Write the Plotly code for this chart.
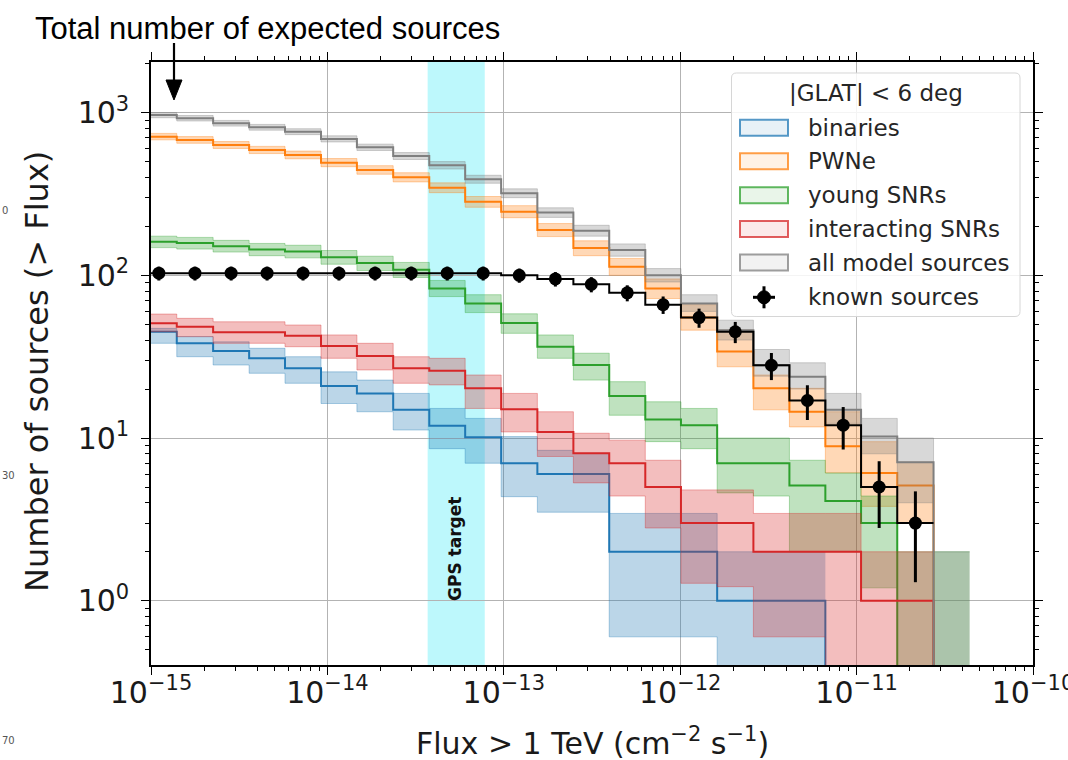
import numpy as np
import plotly.graph_objects as go

# ---------------- data ----------------
# bin edges of the cumulative histograms, flux > 1 TeV (cm^-2 s^-1)
FLUX_EDGES = [8.77e-16, 1.40e-15, 2.25e-15, 3.60e-15, 5.75e-15, 9.20e-15, 1.47e-14, 2.36e-14,
              3.78e-14, 6.04e-14, 9.66e-14, 1.55e-13, 2.48e-13, 3.96e-13, 6.34e-13, 1.01e-12,
              1.62e-12, 2.60e-12, 4.16e-12, 6.65e-12, 1.06e-11, 1.70e-11, 2.73e-11, 4.37e-11]

# all model sources (median, lower, upper)
ALL_MED = [967, 923, 860, 812, 763, 689, 612, 541, 474, 389, 319, 243, 188, 143, 100, 67, 46, 28, 23.8, 14.9, 10.2, 7.1, 0]
ALL_LO = [930, 888, 826, 780, 732, 660, 585, 515, 450, 368, 300, 227, 174, 131, 91, 60, 40, 24, 20, 12.3, 8.0, 4.0, 0]
ALL_HI = [1000, 960, 895, 846, 796, 720, 640, 568, 500, 412, 340, 260, 203, 156, 110, 76, 53, 35, 29, 18.8, 13.2, 10.0, 2.0]

# PWNe
PWN_MED = [711, 679, 632, 589, 549, 492, 444, 400, 345, 283, 246, 190, 147, 113, 83, 55, 34, 20.2, 14.5, 8.9, 6.1, 5.1, 0]
PWN_LO = [680, 648, 602, 560, 520, 465, 418, 375, 322, 262, 226, 173, 132, 100, 72, 46, 27.4, 14.9, 11.7, 6.1, 3.8, 3.0]
PWN_HI = [745, 712, 664, 620, 580, 522, 472, 427, 370, 305, 268, 208, 163, 127, 95, 66, 46, 24.4, 20.2, 14.5, 9.5, 7.1]

# young SNRs
YSNR_MED = [161, 158, 151, 144, 140, 129, 119, 108, 83, 67, 51, 36.4, 28.1, 18.1, 13.0, 12.0, 7.0, 7.0, 5.1, 4.1, 3.0, 0, 0]
YSNR_LO = [148, 145, 139, 132, 128, 117, 107, 97, 74, 59, 44, 30.9, 22.7, 13.8, 9.5, 8.6, 4.6, 4.4, 2.0, 2.0, 1.2, 0, 0]
YSNR_HI = [174, 171, 164, 157, 153, 142, 131, 120, 93, 76, 58, 43, 33.2, 22.2, 16.7, 15.2, 10, 10, 7.3, 6.1, 4.4, 2.0, 2.0]

# interacting SNRs
ISNR_MED = [50.7, 48.3, 44.6, 44.6, 42.5, 36.8, 31.9, 26.8, 25.9, 20.2, 15.0, 10.9, 8.05, 7.0, 5.0, 3.0, 3.0, 2.0, 2.0, 2.0, 1.0, 1.0, 0]
ISNR_LO = [45, 42, 38.2, 38.2, 36.4, 30.9, 26.2, 21.7, 21.2, 15.2, 10.9, 7.7, 5.3, 4.4, 2.8, 1.28, 1.22, 0.6, 0.6, 0, 0, 0]
ISNR_HI = [57.8, 54.4, 51.8, 51.8, 49.5, 43, 38.2, 31.6, 30.9, 24.4, 18.8, 14.5, 10.7, 9.7, 7.3, 4.8, 4.8, 3.44, 3.44, 3.44, 2.0, 2.0]

# binaries
BIN_MED = [45, 38.2, 34.3, 30.9, 26.8, 20.9, 18.8, 14.9, 11.9, 10.1, 7.0, 6.0, 6.0, 2.0, 2.0, 2.0, 1.0, 1.0, 1.0, 0]
BIN_LO = [38.2, 31.6, 28.1, 25.0, 21.7, 16.3, 14.5, 11.2, 8.6, 7.0, 4.36, 3.5, 3.5, 0.6, 0.6, 0.6, 0, 0, 0]
BIN_HI = [47.2, 42, 39, 35.6, 31.6, 25.5, 22.7, 18.8, 15.2, 13.2, 10.2, 8.4, 8.05, 3.44, 3.44, 3.44, 2.0, 2.0, 2.0]

# known sources (counts and Poisson errors)
KNOWN = [103, 103, 103, 103, 103, 103, 103, 103, 103, 103, 100, 95, 88, 78, 66, 55, 45, 28, 17, 12, 5, 3]
KNOWN_ERR = [10.1, 10.1, 10.1, 10.1, 10.1, 10.1, 10.1, 10.1, 10.1, 10.1, 10.0, 9.7, 9.4, 8.8, 8.1, 7.4, 6.7, 5.3, 4.1, 3.5, 2.2, 1.7]

GPS_TARGET = [3.7e-14, 7.8e-14]

X_TICKS = [1e-15, 1e-14, 1e-13, 1e-12, 1e-11, 1e-10]
X_TICKTEXT = ["10<sup>\u221215</sup>", "10<sup>\u221214</sup>", "10<sup>\u221213</sup>",
              "10<sup>\u221212</sup>", "10<sup>\u221211</sup>", "10<sup>\u221210</sup>"]
Y_TICKS = [1, 10, 100, 1000]
Y_TICKTEXT = ["10<sup>0</sup>", "10<sup>1</sup>", "10<sup>2</sup>", "10<sup>3</sup>"]

LEGEND_LABELS = ["binaries", "PWNe", "young SNRs", "interacting SNRs", "all model sources"]

# ---------------- styling ----------------
C_BLUE = (31, 119, 180)
C_ORANGE = (255, 127, 14)
C_GREEN = (44, 160, 44)
C_RED = (214, 39, 40)
C_GRAY = (127, 127, 127)
FLOOR = 1e-3  # stand-in for zero on the log axis (falls below the visible range)

W, H = 1068, 760
PL, PR, PT, PB = 151, 1033, 62, 665  # plot area in pixels


def rgba(c, a):
    return "rgba(%d,%d,%d,%.3f)" % (c[0], c[1], c[2], a)


def px2x(px):
    return (px - PL) / (PR - PL)


def py2y(py):
    return (PB - py) / (PB - PT)


def step_xy(vals):
    n = len(vals)
    x = FLUX_EDGES[:n + 1]
    y = [v if v > 0 else FLOOR for v in vals]
    y = y + [y[-1]]
    return x, y


fig = go.Figure()


def add_component(med, lo, hi, col):
    xl, yl = step_xy(lo)
    xh, yh = step_xy(hi)
    fig.add_trace(go.Scatter(x=xl, y=yl, mode="lines",
                             line=dict(color=rgba(col, 0.35), width=1, shape="hv"),
                             hoverinfo="skip", showlegend=False))
    fig.add_trace(go.Scatter(x=xh, y=yh, mode="lines", fill="tonexty",
                             fillcolor=rgba(col, 0.3),
                             line=dict(color=rgba(col, 0.35), width=1, shape="hv"),
                             hoverinfo="skip", showlegend=False))
    xm, ym = step_xy(med)
    fig.add_trace(go.Scatter(x=xm, y=ym, mode="lines",
                             line=dict(color=rgba(col, 1), width=2, shape="hv"),
                             showlegend=False))


add_component(BIN_MED, BIN_LO, BIN_HI, C_BLUE)
add_component(PWN_MED, PWN_LO, PWN_HI, C_ORANGE)
add_component(YSNR_MED, YSNR_LO, YSNR_HI, C_GREEN)
add_component(ISNR_MED, ISNR_LO, ISNR_HI, C_RED)
add_component(ALL_MED, ALL_LO, ALL_HI, C_GRAY)

# known sources: step line + points with error bars
xk, yk = step_xy(KNOWN)
fig.add_trace(go.Scatter(x=xk, y=yk, mode="lines",
                         line=dict(color="black", width=2, shape="hv"), showlegend=False))
edges = np.array(FLUX_EDGES)
centers = np.sqrt(edges[:-1] * edges[1:])[:len(KNOWN)]
fig.add_trace(go.Scatter(x=centers, y=KNOWN, mode="markers",
                         marker=dict(color="black", size=13, symbol="circle"),
                         error_y=dict(type="data", array=KNOWN_ERR, color="black",
                                      thickness=3, width=0),
                         showlegend=False))

shapes = []
# GPS target band
shapes.append(dict(type="rect", xref="x", yref="paper", x0=GPS_TARGET[0], x1=GPS_TARGET[1],
                   y0=0, y1=1, fillcolor="rgba(0,229,245,0.26)", line=dict(width=0),
                   layer="below"))

# ---- manual legend (matplotlib style) ----
bx0, bx1, by0, by1, r = 731.5, 1020, 73, 316.5, 5
rx, ry = r / (PR - PL), r / (PB - PT)
X0, X1, Y0, Y1 = px2x(bx0), px2x(bx1), py2y(by1), py2y(by0)
path = ("M %f,%f L %f,%f Q %f,%f %f,%f L %f,%f Q %f,%f %f,%f L %f,%f Q %f,%f %f,%f "
        "L %f,%f Q %f,%f %f,%f Z" % (
            X0 + rx, Y0, X1 - rx, Y0, X1, Y0, X1, Y0 + ry, X1, Y1 - ry, X1, Y1, X1 - rx, Y1,
            X0 + rx, Y1, X0, Y1, X0, Y1 - ry, X0, Y0 + ry, X0, Y0, X0 + rx, Y0))
shapes.append(dict(type="path", xref="paper", yref="paper", path=path,
                   fillcolor="rgba(255,255,255,0.85)", line=dict(color="#d6d6d6", width=1),
                   layer="above"))

row_y = [127.7, 161.3, 195.3, 229.0, 262.5, 297.3]
leg_cols = [C_BLUE, C_ORANGE, C_GREEN, C_RED, C_GRAY]
for yy, col in zip(row_y[:5], leg_cols):
    shapes.append(dict(type="rect", xref="paper", yref="paper",
                       x0=px2x(740), x1=px2x(788), y0=py2y(yy + 8), y1=py2y(yy - 8),
                       fillcolor=rgba(col, 0.10), line=dict(color=rgba(col, 0.75), width=2),
                       layer="above"))
# known-source legend marker
ky = row_y[5]
kx = 764
shapes.append(dict(type="line", xref="paper", yref="paper", x0=px2x(kx), x1=px2x(kx),
                   y0=py2y(ky + 11), y1=py2y(ky - 11), line=dict(color="black", width=3),
                   layer="above"))
shapes.append(dict(type="line", xref="paper", yref="paper", x0=px2x(kx - 11), x1=px2x(kx + 11),
                   y0=py2y(ky), y1=py2y(ky), line=dict(color="black", width=3), layer="above"))
shapes.append(dict(type="circle", xref="paper", yref="paper", x0=px2x(kx - 6.5), x1=px2x(kx + 6.5),
                   y0=py2y(ky + 6.5), y1=py2y(ky - 6.5), fillcolor="black",
                   line=dict(color="black", width=1), layer="above"))
# arrow shaft and head for the top annotation
shapes.append(dict(type="line", xref="paper", yref="paper", x0=px2x(174), x1=px2x(174),
                   y0=py2y(43), y1=py2y(84), line=dict(color="black", width=2.2)))
shapes.append(dict(type="path", xref="paper", yref="paper",
                   path="M %f,%f L %f,%f L %f,%f Z" % (px2x(166), py2y(80), px2x(182), py2y(80),
                                                       px2x(174), py2y(100)),
                   fillcolor="black", line=dict(color="black", width=1)))

ann = []
ann.append(dict(x=px2x(875.5), y=py2y(93), xref="paper", yref="paper", text="|GLAT| &lt; 6 deg",
                showarrow=False, xanchor="center", yanchor="middle",
                font=dict(family="DejaVu Sans", size=23, color="#262626")))
for yy, lab in zip(row_y, LEGEND_LABELS + ["known sources"]):
    ann.append(dict(x=px2x(806), y=py2y(yy), xref="paper", yref="paper", text=lab,
                    showarrow=False, xanchor="left", yanchor="middle",
                    font=dict(family="DejaVu Sans", size=23, color="#262626")))

# GPS target label
ann.append(dict(x=px2x(455), y=py2y(549), xref="paper", yref="paper", text="<b>GPS target</b>",
                showarrow=False, textangle=-90, xanchor="center", yanchor="middle",
                font=dict(family="DejaVu Sans", size=17, color="#111111")))

# axis titles
ann.append(dict(x=px2x(37), y=py2y(372), xref="paper", yref="paper",
                text="Number of sources (&gt; Flux)", showarrow=False, textangle=-90,
                xanchor="center", yanchor="middle",
                font=dict(family="DejaVu Sans", size=32, color="#1a1a1a")))
ann.append(dict(x=px2x(592), y=py2y(741), xref="paper", yref="paper",
                text="Flux &gt; 1 TeV (cm<sup>\u22122</sup> s<sup>\u22121</sup>)", showarrow=False,
                xanchor="center", yanchor="middle",
                font=dict(family="DejaVu Sans", size=30, color="#1a1a1a")))

# top annotation
ann.append(dict(x=px2x(33), y=py2y(29), xref="paper", yref="paper",
                text="Total number of expected sources", showarrow=False,
                xanchor="left", yanchor="middle",
                font=dict(family="Liberation Sans, Arial", size=31, color="black")))

# small stray labels at the very left edge of the picture
for txt, yy, xx in [("0", 210, 5), ("30", 475, 8), ("70", 740, 8)]:
    ann.append(dict(x=px2x(xx), y=py2y(yy), xref="paper", yref="paper", text=txt,
                    showarrow=False, xanchor="center", yanchor="middle",
                    font=dict(family="DejaVu Sans", size=10, color="#555555")))

minor_x = [d * 10.0 ** e for e in range(-15, -10) for d in range(2, 10)]
minor_y = [d * 10.0 ** e for e in range(-1, 4) for d in range(2, 10)]

axis_common = dict(type="log", showline=True, linecolor="black", linewidth=1.6, mirror="ticks",
                   ticks="outside", ticklen=8, tickwidth=1.4, tickcolor="black",
                   showgrid=True, gridcolor="#b3b3b3", gridwidth=1, zeroline=False,
                   automargin=False, ticklabeloverflow="allow",
                   tickfont=dict(family="DejaVu Sans", size=30, color="#1a1a1a"))

fig.update_layout(
    width=W, height=H,
    margin=dict(l=PL, r=W - PR, t=PT, b=H - PB),
    paper_bgcolor="white", plot_bgcolor="white",
    showlegend=False,
    shapes=shapes, annotations=ann,
    xaxis=dict(range=[-15, -10], tickmode="array", tickvals=X_TICKS, ticktext=X_TICKTEXT,
               minor=dict(tickmode="array", tickvals=minor_x, ticks="outside", ticklen=4,
                          tickwidth=1, tickcolor="black", showgrid=False),
               ticklabelstandoff=-8,
               **axis_common),
    yaxis=dict(range=[-0.395, 3.311], tickmode="array", tickvals=Y_TICKS, ticktext=Y_TICKTEXT,
               minor=dict(tickmode="array", tickvals=minor_y, ticks="outside", ticklen=4,
                          tickwidth=1, tickcolor="black", showgrid=False),
               ticklabelstandoff=6,
               **axis_common),
)

fig.write_html("out.html")
